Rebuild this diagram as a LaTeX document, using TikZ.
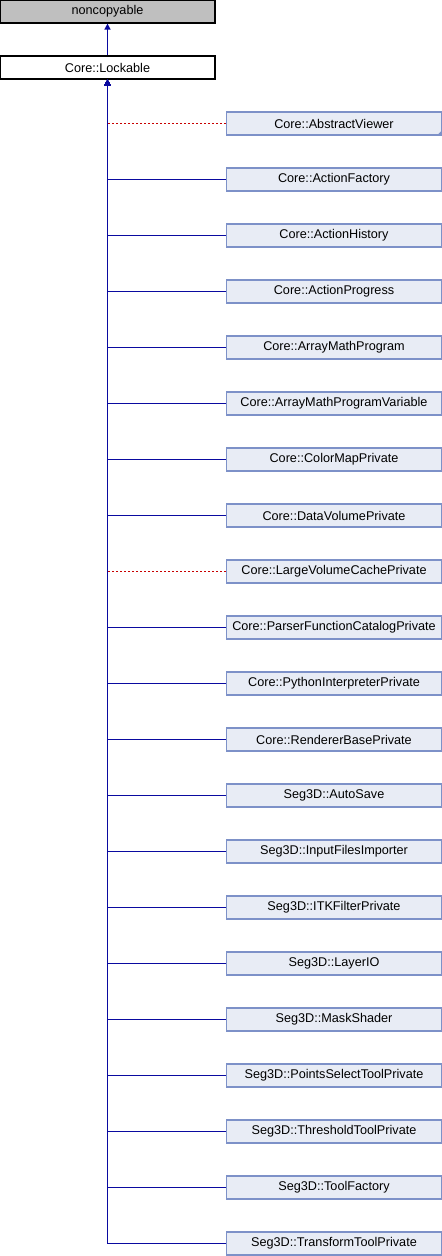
\documentclass[tikz,border=0pt]{standalone}
\usepackage{fontspec}
\setmainfont{Liberation Sans}
\usetikzlibrary{positioning}
\usetikzlibrary{arrows.meta}

\definecolor{edgeblue}{RGB}{10,10,160}
\definecolor{edgered}{RGB}{200,0,0}
\definecolor{boxfill}{RGB}{232,236,245}
\definecolor{boxline}{RGB}{125,145,200}
\definecolor{basefill}{RGB}{191,191,191}

\begin{document}
\begin{tikzpicture}[>={Triangle[length=4.5pt,width=4.5pt]},node distance=42pt,
                box/.style={rectangle,minimum width=161.25pt,minimum height=17.25pt,inner sep=0pt,
                  font=\fontsize{9.5}{11}\selectfont},
                base node/.style={box,draw=black,line width=0.9pt,fill=basefill},
                main node/.style={box,draw=black,line width=0.9pt,fill=white},
                child node/.style={box,draw=boxline,line width=0.9pt,fill=boxfill},
                pub/.style={edgeblue,line width=1.2pt,->,
                  to path={(\tikztostart.west) -| (\tikztotarget.south)}},
                priv/.style={pub,edgered,dash pattern=on 1.8pt off 1.2pt}]

  \useasboundingbox (0,0) rectangle (331.5pt,-942pt);

  \node[base node] (nc) at (80.625pt,-8.625pt) {noncopyable};
  \node[main node] (lock) at (80.625pt,-50.625pt) {Core::Lockable};

  \node[child node] (1) at (250.5pt,-92.625pt) {Core::AbstractViewer};
  \node[child node] (2) [below of=1] {Core::ActionFactory};
  \node[child node] (3) [below of=2] {Core::ActionHistory};
  \node[child node] (4) [below of=3] {Core::ActionProgress};
  \node[child node] (5) [below of=4] {Core::ArrayMathProgram};
  \node[child node] (6) [below of=5] {Core::ArrayMathProgramVariable};
  \node[child node] (7) [below of=6] {Core::ColorMapPrivate};
  \node[child node] (8) [below of=7] {Core::DataVolumePrivate};
  \node[child node] (9) [below of=8] {Core::LargeVolumeCachePrivate};
  \node[child node] (10) [below of=9] {Core::ParserFunctionCatalogPrivate};
  \node[child node] (11) [below of=10] {Core::PythonInterpreterPrivate};
  \node[child node] (12) [below of=11] {Core::RendererBasePrivate};
  \node[child node] (13) [below of=12] {Seg3D::AutoSave};
  \node[child node] (14) [below of=13] {Seg3D::InputFilesImporter};
  \node[child node] (15) [below of=14] {Seg3D::ITKFilterPrivate};
  \node[child node] (16) [below of=15] {Seg3D::LayerIO};
  \node[child node] (17) [below of=16] {Seg3D::MaskShader};
  \node[child node] (18) [below of=17] {Seg3D::PointsSelectToolPrivate};
  \node[child node] (19) [below of=18] {Seg3D::ThresholdToolPrivate};
  \node[child node] (20) [below of=19] {Seg3D::ToolFactory};
  \node[child node] (21) [below of=20] {Seg3D::TransformToolPrivate};

  % truncated marker
  \fill[boxline] (1.south east) -- ++(-4pt,0) -- ++(4pt,4pt) -- cycle;

  \draw[edgeblue,line width=1.2pt,->] (lock) -- (nc);

  \path[priv]
    (1) edge (lock)
    (9) edge (lock);

  \path[pub]
    (2) edge (lock)
    (3) edge (lock)
    (4) edge (lock)
    (5) edge (lock)
    (6) edge (lock)
    (7) edge (lock)
    (8) edge (lock)
    (10) edge (lock)
    (11) edge (lock)
    (12) edge (lock)
    (13) edge (lock)
    (14) edge (lock)
    (15) edge (lock)
    (16) edge (lock)
    (17) edge (lock)
    (18) edge (lock)
    (19) edge (lock)
    (20) edge (lock)
    (21) edge (lock);

\end{tikzpicture}
\end{document}
